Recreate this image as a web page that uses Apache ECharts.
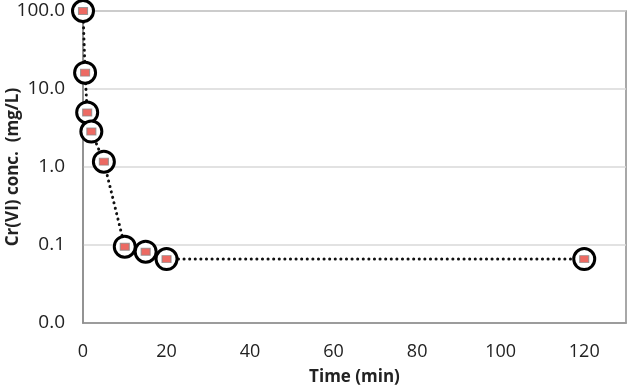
<!DOCTYPE html>
<html>
<head>
<meta charset="utf-8">
<script src="https://cdn.jsdelivr.net/npm/echarts@6/dist/echarts.min.js"></script>
<style>
  html, body { margin: 0; padding: 0; background: #fff; }
  #chart { width: 629px; height: 392px; }
</style>
</head>
<body>
<div id="chart"></div>
<script>
  // time (min) and Cr(VI) concentration (mg/L)
  const times = [0, 0.5, 1, 2, 5, 10, 15, 20, 120]
  const conc = [100, 16.2, 5.0, 2.85, 1.17, 0.095, 0.082, 0.066, 0.066]
  const xTicks = [0, 20, 40, 60, 80, 100, 120]

  const points = times.map((t, i) => [t, conc[i]])

  const chart = echarts.init(document.getElementById('chart'))
  const font = '"Open Sans", "Liberation Sans", sans-serif'

  chart.setOption({
    animation: false,
    grid: {
      left: 83, right: 3, top: 11, bottom: 69,
      outerBoundsMode: 'none',
      containLabel: false,
      show: true, borderColor: '#8c8c8c', borderWidth: 1.5
    },
    xAxis: {
      type: 'value',
      min: 0, max: 130, interval: 20,
      name: 'Time (min)',
      nameLocation: 'middle',
      nameGap: 46,
      nameMoveOverlap: false,
      nameTextStyle: { fontFamily: font, fontSize: 17, fontWeight: 'bold', color: '#222' },
      axisLine: { show: true, lineStyle: { color: '#8c8c8c', width: 1.5 } },
      axisTick: { show: false },
      splitLine: { show: false },
      axisLabel: {
        margin: 20,
        fontFamily: font, fontSize: 18, color: '#222',
        formatter: v => xTicks.includes(v) ? String(v) : ''
      }
    },
    yAxis: {
      type: 'log',
      logBase: 10,
      min: 0.01, max: 100,
      name: 'Cr(VI) conc.  (mg/L)',
      nameLocation: 'middle',
      nameGap: 61,
      nameMoveOverlap: false,
      nameTextStyle: { fontFamily: font, fontSize: 17, fontWeight: 'bold', color: '#222' },
      axisLine: { show: true, lineStyle: { color: '#8c8c8c', width: 1.5 } },
      axisTick: { show: false },
      splitLine: { show: true, lineStyle: { color: '#d9d9d9', width: 1.5 } },
      axisLabel: {
        margin: 18,
        fontFamily: font, fontSize: 19, color: '#222',
        formatter: v => Number(v).toFixed(1)
      }
    },
    series: [
      {
        type: 'line',
        data: points,
        symbol: 'circle',
        symbolSize: 21,
        lineStyle: { color: '#111', width: 3, type: [0.1, 5.5], cap: 'round' },
        itemStyle: { color: '#fff', borderColor: '#000', borderWidth: 3 },
        z: 2
      },
      {
        // error bar marks inside the circles
        type: 'scatter',
        data: points,
        symbol: 'rect',
        symbolSize: [9, 7],
        itemStyle: { color: '#e8453c', borderColor: '#8a8a8a', borderWidth: 1 },
        z: 3
      }
    ]
  })
</script>
</body>
</html>
